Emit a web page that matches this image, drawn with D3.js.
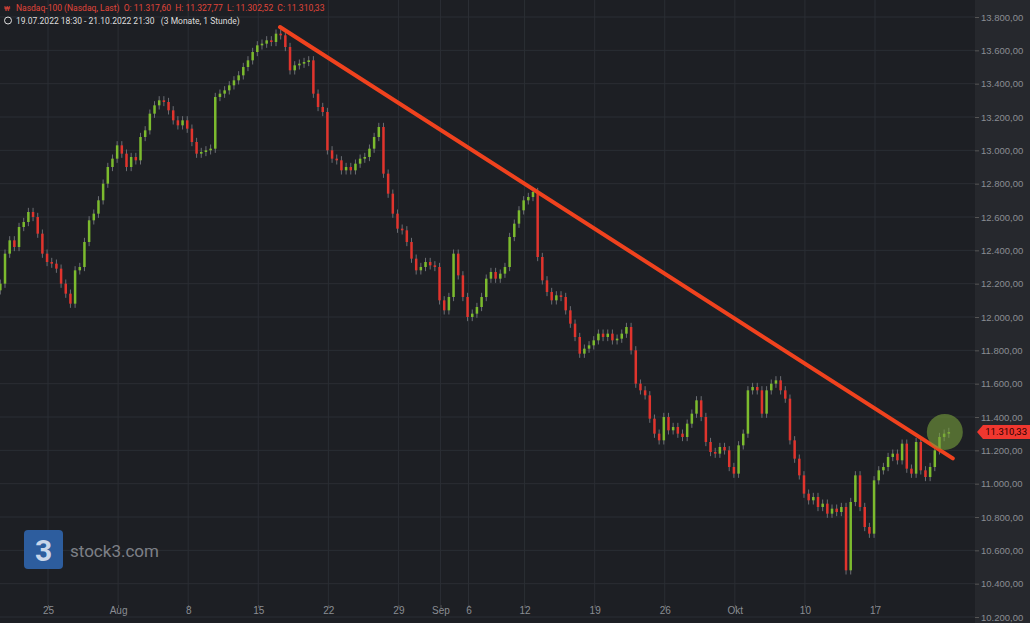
<!DOCTYPE html>
<html><head><meta charset="utf-8">
<script src="https://cdn.jsdelivr.net/npm/d3@7"></script>
<style>body{margin:0;background:#1d1f24;font-family:Roboto,"Noto Sans",sans-serif}</style>
</head><body>
<script>
// hourly-ish closes, 3 per trading day, 19.07.2022 - 21.10.2022
const closes = [
12200,12380,12460, 12420,12540,12570, 12630,12600,12500, 12380,12330,12320, 12290,12200,12140,
12080,12280,12300, 12450,12580,12620, 12700,12800,12900, 12950,13030,12980, 12900,12960,12940,
13080,13120,13220, 13270,13300,13290, 13240,13180,13150, 13180,13130,13050, 12980,12990,13000,
13010,13320,13340, 13360,13390,13420, 13450,13500,13540, 13590,13630,13640, 13660,13650,13700,
13690,13620,13480, 13510,13520,13530, 13540,13340,13260, 13230,13000,12950, 12940,12880,12900,
12880,12920,12950, 12960,13010,13080, 13140,12860,12740, 12620,12530,12520, 12450,12350,12280,
12300,12330,12310, 12300,12100,12040, 12120,12380,12250, 12120,12000,12020, 12060,12120,12230,
12270,12230,12260, 12300,12480,12560, 12640,12700,12720, 12750,12360,12220, 12150,12100,12130,
12120,12040,11960, 11880,11780,11810, 11830,11860,11900, 11880,11900,11860, 11870,11900,11940,
11800,11600,11560, 11530,11390,11300, 11260,11400,11320, 11340,11300,11280, 11360,11420,11500,
11400,11250,11190, 11180,11220,11200, 11100,11060,11230, 11300,11560,11580, 11560,11420,11560,
11600,11620,11560, 11510,11260,11150, 11050,10940,10900, 10920,10860,10880, 10820,10850,10830,
10860,10480,10890, 11050,10860,10740, 10700,11020,11080, 11100,11160,11180, 11140,11240,11090,
11060,11250,11080, 11040,11100,11200, 11280,11300,11310
];
const tickLabels = ["25","Aug","8","15","22","29","Sep","6","12","19","26","Okt","10","17"];
const tickDays = [4,9,14,19,24,29,32,34,38,43,48,53,58,63];
const priceTicks = d3.range(10200, 13801, 200);
const lastPrice = 11310.33;
const trendFrom = {day: 20.55, price: 13740};
const trendTo = {day: 68.55, price: 11152};

const W = 1030, H = 623, plotW = 975;
const svg = d3.select("body").append("svg").attr("width", W).attr("height", H);
svg.append("rect").attr("width", W).attr("height", H).attr("fill", "#1d1f24");
svg.append("rect").attr("x", plotW).attr("width", W - plotW).attr("height", H).attr("fill", "#26282d");

const x = d3.scaleLinear().domain([4, 63]).range([48, 875]);
const y = d3.scaleLinear().domain([10200, 13800]).range([617, 17]);
const fmt = v => d3.format(",.2f")(v).replace(/,/g, "#").replace(".", ",").replace(/#/g, ".");

// grid
svg.append("g").selectAll("line").data(priceTicks).enter().append("line")
    .attr("x1", 0).attr("x2", plotW).attr("y1", d => y(d)).attr("y2", d => y(d))
    .attr("stroke", "#2b2e34");
svg.append("g").selectAll("line").data(tickDays).enter().append("line")
    .attr("x1", d => x(d)).attr("x2", d => x(d)).attr("y1", 0).attr("y2", 605)
    .attr("stroke", "#2b2e34");

// y axis labels
const yAxis = d3.axisRight(y).tickValues(priceTicks).tickSize(4).tickFormat(fmt);
svg.append("g").attr("transform", `translate(${plotW},0)`).call(yAxis)
    .call(g => g.select(".domain").remove())
    .call(g => g.selectAll("line").attr("stroke", "#555"))
    .call(g => g.selectAll("text").attr("fill", "#8a8d93").attr("font-size", 9.5).attr("x", 6));

// x axis labels
const xAxis = d3.axisBottom(x).tickValues(tickDays).tickSize(3).tickFormat((d, i) => tickLabels[i]);
svg.append("g").attr("transform", "translate(0,605)").call(xAxis)
    .call(g => g.select(".domain").remove())
    .call(g => g.selectAll("line").attr("stroke", "#555"))
    .call(g => g.selectAll("text").attr("fill", "#8a8d93").attr("font-size", 10).attr("y", 2));

// candles
const candles = closes.map((c, i) => {
    const o = i ? closes[i - 1] : c - 40;
    return {i, o, c, h: Math.max(o, c) + 25, l: Math.min(o, c) - 25};
});
const cx = i => x(i / 3 + 0.6);
const cg = svg.append("g");
cg.selectAll("line").data(candles).enter().append("line")
    .attr("x1", d => cx(d.i)).attr("x2", d => cx(d.i))
    .attr("y1", d => y(d.h)).attr("y2", d => y(d.l))
    .attr("stroke", "#6b6e74").attr("stroke-width", 1);
cg.selectAll("rect").data(candles).enter().append("rect")
    .attr("x", d => cx(d.i) - 1.25).attr("width", 2.5)
    .attr("y", d => y(Math.max(d.o, d.c)))
    .attr("height", d => Math.max(1, Math.abs(y(d.o) - y(d.c))))
    .attr("fill", d => d.c >= d.o ? "#7cbb2e" : "#e0342d");

// trendline
svg.append("line")
    .attr("x1", x(trendFrom.day)).attr("y1", y(trendFrom.price))
    .attr("x2", x(trendTo.day)).attr("y2", y(trendTo.price))
    .attr("stroke", "#f0421e").attr("stroke-width", 4).attr("stroke-linecap", "round");

// highlight circle
svg.append("circle").attr("cx", cx(closes.length - 1) - 4).attr("cy", y(lastPrice))
    .attr("r", 18).attr("fill", "rgba(120,160,60,0.6)");

// last price tag
const ly = y(lastPrice);
svg.append("path").attr("d", `M${plotW + 2},${ly} L${plotW + 8},${ly - 7} H1030 V${ly + 7} H${plotW + 8} Z`)
    .attr("fill", "#f0372f");
svg.append("text").attr("x", 1027).attr("y", ly + 3.5).attr("text-anchor", "end")
    .attr("font-size", 9.5).attr("fill", "#2a0000").text(fmt(lastPrice));

// header
svg.append("text").attr("x", 16).attr("y", 11).attr("font-size", 8.5).attr("fill", "#e0453a")
    .attr("xml:space", "preserve")
    .text("Nasdaq-100 (Nasdaq, Last)  O: 11.317,60  H: 11.327,77  L: 11.302,52  C: 11.310,33");
svg.append("text").attr("x", 4).attr("y", 11).attr("font-size", 8).attr("fill", "#e0453a").text("₩");
svg.append("circle").attr("cx", 8).attr("cy", 20.5).attr("r", 3.5).attr("fill", "none").attr("stroke", "#ddd");
svg.append("text").attr("x", 16).attr("y", 24).attr("font-size", 8.5).attr("fill", "#ddd")
    .attr("xml:space", "preserve")
    .text("19.07.2022 18:30 - 21.10.2022 21:30   (3 Monate, 1 Stunde)");

// logo
svg.append("rect").attr("x", 24).attr("y", 530).attr("width", 39).attr("height", 39).attr("rx", 4).attr("fill", "#2d5d9e");
svg.append("text").attr("x", 43.5).attr("y", 561).attr("text-anchor", "middle").attr("font-size", 30)
    .attr("font-weight", "bold").attr("fill", "#c9d6ea").text("3");
svg.append("text").attr("x", 70).attr("y", 557).attr("font-size", 17).attr("fill", "#7d8087").text("stock3.com");
</script>
</body></html>
